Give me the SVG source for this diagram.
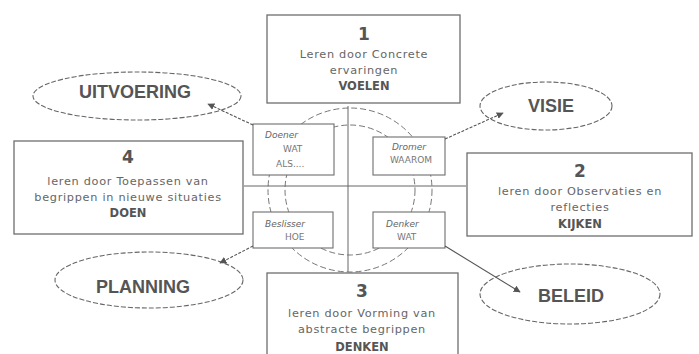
<svg xmlns="http://www.w3.org/2000/svg" width="699" height="354" viewBox="0 0 699 354">
<style>
.box{fill:#fff;stroke:#6e6e6e;stroke-width:1.3}
.sbox{fill:#fff;stroke:#6e6e6e;stroke-width:1.1}
.ell{fill:#fff;stroke:#666;stroke-width:1.1;stroke-dasharray:5 2}
.circ{fill:none;stroke:#777;stroke-width:1;stroke-dasharray:6 3}
.axis{stroke:#666;stroke-width:1}
.num{font-family:"DejaVu Sans",sans-serif;font-weight:bold;font-size:17px;fill:#555;text-anchor:middle}
.txt{font-family:"DejaVu Sans",sans-serif;font-size:11.3px;fill:#666;text-anchor:middle;letter-spacing:0.7px}
.key{font-family:"DejaVu Sans",sans-serif;font-weight:bold;font-size:11.5px;fill:#555;text-anchor:middle}
.big{font-family:"Liberation Sans",Arial,sans-serif;font-weight:bold;font-size:18px;fill:#555;text-anchor:middle}
.sn{font-family:"DejaVu Sans",sans-serif;font-style:italic;font-size:9px;fill:#666}
.sq{font-family:"DejaVu Sans",sans-serif;font-size:9px;fill:#777}
.con{stroke:#555;stroke-width:1.1;fill:none;stroke-dasharray:3 1.5}
.con2{stroke:#555;stroke-width:1.1;fill:none}
</style>
<defs>
<marker id="ah" viewBox="0 0 10 10" refX="9" refY="5" markerWidth="7" markerHeight="7" orient="auto" markerUnits="userSpaceOnUse">
<path d="M0,0 L10,5 L0,10 z" fill="#555"/>
</marker>
</defs>

<g id="wheel">
<circle class="circ" cx="350" cy="190" r="82"/>
<circle class="circ" cx="350" cy="190" r="65"/>
<line class="axis" x1="348" y1="106" x2="348" y2="272"/>
<line class="axis" x1="244" y1="186" x2="466" y2="186"/>
</g>

<g id="box1">
<rect class="box" x="267" y="15" width="193" height="88"/>
<text class="num" x="364" y="40">1</text>
<text class="txt" x="364" y="58">Leren door Concrete</text>
<text class="txt" x="364" y="74">ervaringen</text>
<text class="key" x="364" y="90">VOELEN</text>
</g>

<g id="box2">
<rect class="box" x="467" y="153" width="225" height="83"/>
<text class="num" x="580" y="177">2</text>
<text class="txt" x="580" y="195">leren door Observaties en</text>
<text class="txt" x="580" y="211">reflecties</text>
<text class="key" x="580" y="228">KIJKEN</text>
</g>

<g id="box4">
<rect class="box" x="14" y="141" width="229" height="93"/>
<text class="num" x="128" y="163">4</text>
<text class="txt" x="128" y="185">leren door Toepassen van</text>
<text class="txt" x="128" y="201">begrippen in nieuwe situaties</text>
<text class="key" x="128" y="217">DOEN</text>
</g>

<g id="box3">
<rect class="box" x="267" y="273" width="191" height="90"/>
<text class="num" x="362" y="297">3</text>
<text class="txt" x="362" y="317">leren door Vorming van</text>
<text class="txt" x="362" y="333">abstracte begrippen</text>
<text class="key" x="362" y="351">DENKEN</text>
</g>

<g id="doener">
<rect class="sbox" x="253" y="124" width="81" height="51"/>
<text class="sn" x="265" y="138">Doener</text>
<text class="sq" x="283" y="152">WAT</text>
<text class="sq" x="276" y="167">ALS....</text>
</g>

<g id="dromer">
<rect class="sbox" x="373" y="137" width="72" height="38"/>
<text class="sn" x="409" y="150" text-anchor="middle">Dromer</text>
<text class="sq" x="411" y="163" text-anchor="middle">WAAROM</text>
</g>

<g id="beslisser">
<rect class="sbox" x="253" y="212" width="80" height="36"/>
<text class="sn" x="265" y="227">Beslisser</text>
<text class="sq" x="285" y="240">HOE</text>
</g>

<g id="denker">
<rect class="sbox" x="373" y="212" width="72" height="36"/>
<text class="sn" x="386" y="227">Denker</text>
<text class="sq" x="397" y="240">WAT</text>
</g>

<g id="uitvoering">
<ellipse class="ell" cx="137" cy="96" rx="104" ry="24"/>
<text class="big" x="135" y="98">UITVOERING</text>
</g>

<g id="visie">
<ellipse class="ell" cx="546" cy="106" rx="66" ry="24"/>
<text class="big" x="551" y="112">VISIE</text>
</g>

<g id="planning">
<ellipse class="ell" cx="149" cy="280" rx="94" ry="28"/>
<text class="big" x="143" y="293">PLANNING</text>
</g>

<g id="beleid">
<ellipse class="ell" cx="570" cy="294" rx="90" ry="30"/>
<text class="big" x="571" y="302">BELEID</text>
</g>

<g id="connectors">
<line class="con" x1="253" y1="125" x2="208" y2="104" marker-end="url(#ah)"/>
<line class="con" x1="445" y1="139" x2="503" y2="113" marker-end="url(#ah)"/>
<line class="con" x1="253" y1="246" x2="220" y2="263" marker-end="url(#ah)"/>
<line class="con2" x1="445" y1="246" x2="520" y2="292" marker-end="url(#ah)"/>
</g>
</svg>
